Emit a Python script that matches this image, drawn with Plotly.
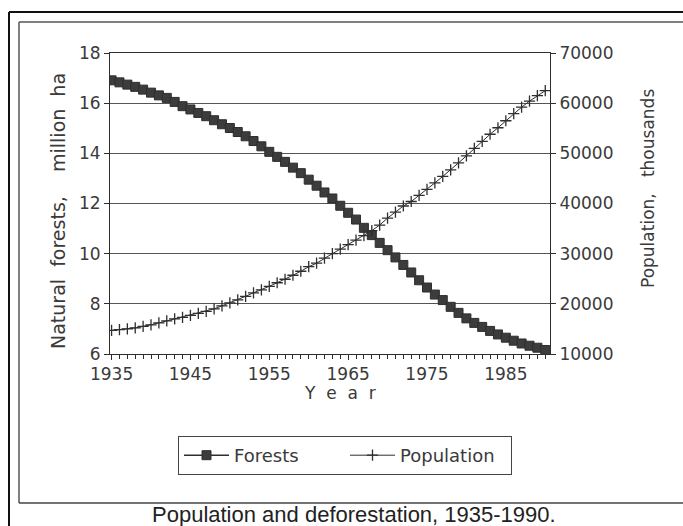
import plotly.graph_objects as go

years = list(range(1935, 1991))

forests = [16.91, 16.83, 16.74, 16.65, 16.54, 16.42, 16.31, 16.21, 16.05, 15.88,
           15.75, 15.61, 15.48, 15.32, 15.16, 15.01, 14.85, 14.68, 14.49, 14.28,
           14.06, 13.86, 13.66, 13.43, 13.21, 12.95, 12.71, 12.44, 12.20, 11.91,
           11.63, 11.36, 11.03, 10.74, 10.43, 10.14, 9.85, 9.55, 9.25, 8.94,
           8.65, 8.37, 8.15, 7.88, 7.64, 7.42, 7.24, 7.08, 6.92, 6.78,
           6.65, 6.53, 6.42, 6.33, 6.25, 6.16]

population = [14700, 14850, 15000, 15200, 15500, 15800, 16200, 16600, 17000, 17300,
              17700, 18100, 18500, 19000, 19600, 20200, 20800, 21500, 22200, 22800,
              23500, 24200, 24900, 25700, 26500, 27400, 28100, 29100, 30000, 30900,
              31800, 32700, 33600, 34600, 35700, 37100, 38300, 39500, 40400, 41600,
              42800, 44100, 45400, 46700, 48100, 49500, 51000, 52400, 53800, 55100,
              56500, 57900, 59200, 60400, 61500, 62500]

left_ticks = [6, 8, 10, 12, 14, 16, 18]
right_ticks = [10000, 20000, 30000, 40000, 50000, 60000, 70000]
year_ticks = [1935, 1945, 1955, 1965, 1975, 1985]

INK = "#2e2e2e"
TXT = "#3a3a3a"
FONT = "DejaVu Sans"

fig = go.Figure()
fig.add_trace(go.Scatter(
    x=years, y=forests, name="Forests", mode="lines+markers",
    line=dict(color=INK, width=1.5),
    marker=dict(symbol="square", size=9, color="#3c3c3c", line=dict(color=INK, width=1)),
    yaxis="y"))
fig.add_trace(go.Scatter(
    x=years, y=population, name="Population", mode="lines+markers",
    line=dict(color=INK, width=1),
    marker=dict(symbol="cross-thin", size=8, line=dict(color=INK, width=1.3)),
    yaxis="y2"))

W, H = 683, 526
L, R, T, B = 110, 550, 53, 354

def px(x):
    return (x - L) / (R - L)

def py(y):
    return (B - y) / (B - T)

fig.update_layout(
    width=W, height=H,
    margin=dict(l=L, r=W - R, t=T, b=H - B, autoexpand=False),
    paper_bgcolor="white", plot_bgcolor="white",
    font=dict(family=FONT, size=17, color=TXT),
    showlegend=True,
    legend=dict(orientation="h", xref="container", yref="container",
                x=178 / W, y=1 - 436 / H, xanchor="left", yanchor="top",
                bordercolor="#444", borderwidth=1, font=dict(size=18, color=TXT),
                itemwidth=45, entrywidth=106, entrywidthmode="pixels", bgcolor="white"),
    xaxis=dict(range=[1934.8, 1990.6], tickvals=year_ticks, ticks="outside", ticklen=5,
               tickcolor=INK, showline=True, linecolor=INK, linewidth=1, mirror=True,
               showgrid=False, zeroline=False, tickfont=dict(size=17, color=TXT),
               automargin=False,
               minor=dict(tickvals=years, ticks="outside", ticklen=4, tickcolor=INK)),
    yaxis=dict(range=[6, 18], tickvals=left_ticks, ticks="outside", ticklen=5,
               tickcolor=INK, showline=True, linecolor=INK, linewidth=1,
               showgrid=True, gridcolor="#555", gridwidth=1, zeroline=False,
               automargin=False, tickfont=dict(size=17, color=TXT)),
    yaxis2=dict(range=[10000, 70000], tickvals=right_ticks, overlaying="y", side="right",
                ticks="outside", ticklen=5, tickcolor=INK, showline=True, linecolor=INK,
                linewidth=1, showgrid=False, zeroline=False, tickformat="d",
                automargin=False, tickfont=dict(size=17, color=TXT)),
)

annotations = [
    dict(text="Natural  forests,    million  ha", x=px(58), y=py(211), textangle=-90,
         font=dict(size=19, color=TXT)),
    dict(text="Population,   thousands", x=px(648), y=py(189), textangle=-90,
         font=dict(size=17, color=TXT)),
    dict(text="Y  e  a  r", x=px(340), y=py(393), font=dict(size=17, color=TXT)),
    dict(text="Population and deforestation, 1935-1990.", x=px(354), y=py(514),
         font=dict(family="Liberation Sans", size=22, color="#222")),
]
for a in annotations:
    a.update(xref="paper", yref="paper", showarrow=False, xanchor="center", yanchor="middle")
fig.update_layout(annotations=annotations)

shapes = [
    # outer frame (black), cropped on right and bottom
    dict(type="line", x0=px(9), x1=px(700), y0=py(12), y1=py(12), line=dict(color="#111", width=2)),
    dict(type="line", x0=px(9), x1=px(9), y0=py(12), y1=py(540), line=dict(color="#111", width=2)),
    # inner frame (gray)
    dict(type="line", x0=px(19), x1=px(700), y0=py(22), y1=py(22), line=dict(color="#555", width=1.5)),
    dict(type="line", x0=px(19), x1=px(19), y0=py(22), y1=py(503), line=dict(color="#555", width=1.5)),
    dict(type="line", x0=px(19), x1=px(700), y0=py(503), y1=py(503), line=dict(color="#444", width=1.5)),
]
for s in shapes:
    s.update(xref="paper", yref="paper")
fig.update_layout(shapes=shapes)

fig.write_html("out.html", config={"displayModeBar": False},
               post_script="document.body.style.margin='0';document.body.style.overflow='hidden';")
